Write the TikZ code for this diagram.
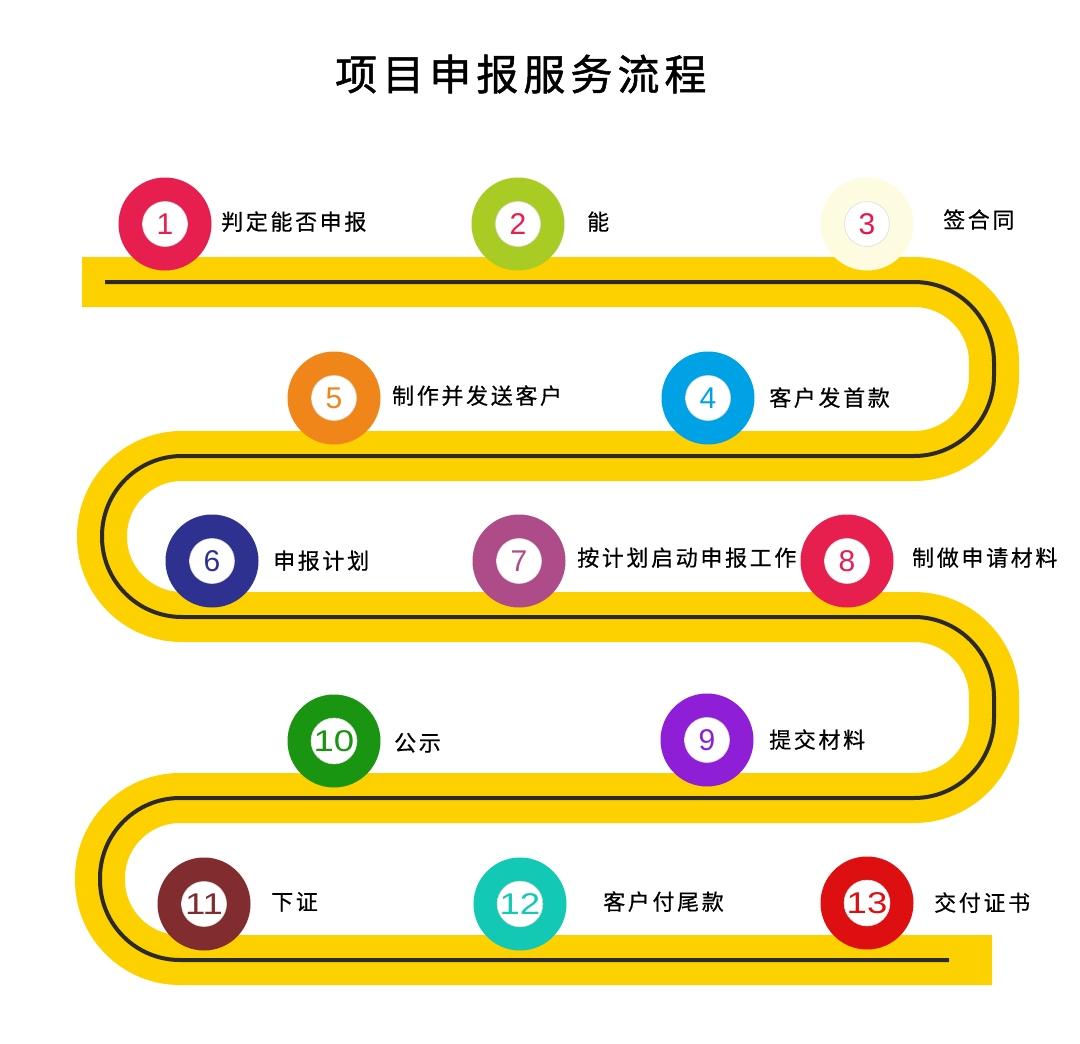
\documentclass[tikz,border=0pt]{standalone}
\usepackage{fontspec}
\newfontfamily\cjk[LetterSpace=12,FakeBold=0.5]{Noto Sans CJK SC}
\newfontfamily\cjktitle[LetterSpace=12,FakeBold=1.2]{Noto Sans CJK SC}
\newfontfamily\numf{Liberation Sans}
\definecolor{roadyellow}{RGB}{253,208,0}
\definecolor{roadline}{RGB}{43,42,41}
\definecolor{cA}{RGB}{230,31,79}
\definecolor{cB}{RGB}{169,204,37}
\definecolor{cC}{RGB}{254,252,224}
\definecolor{cCnum}{RGB}{232,23,74}
\definecolor{cD}{RGB}{0,162,230}
\definecolor{cE}{RGB}{240,134,26}
\definecolor{cF}{RGB}{46,49,144}
\definecolor{cG}{RGB}{174,75,137}
\definecolor{cH}{RGB}{230,31,79}
\definecolor{cI}{RGB}{142,31,214}
\definecolor{cJ}{RGB}{26,149,17}
\definecolor{cK}{RGB}{129,45,47}
\definecolor{cL}{RGB}{19,200,181}
\definecolor{cM}{RGB}{221,15,17}
\pgfdeclareradialshading{innerball}{\pgfpoint{0bp}{0bp}}{color(0bp)=(white); color(34bp)=(white); color(46bp)=(black!16); color(50bp)=(black!26)}
\begin{document}
\begin{tikzpicture}[x=1pt,y=-1pt,
  ring/.style={circle, minimum size=93pt, inner sep=0pt, draw=none},
  ball/.style={circle, minimum size=45pt, inner sep=0pt, shading=innerball, draw=black!14, line width=0.6pt, font=\numf\fontsize{30}{30}\selectfont},
  lab/.style={anchor=base west, inner sep=0pt, font=\cjk\fontsize{22}{24}\selectfont, text=black},
  road/.style={line width=50pt, draw=roadyellow, rounded corners=80pt},
  roadcentre/.style={line width=4pt, draw=roadline, rounded corners=80pt}]
\useasboundingbox (0,0) rectangle (1080,1044);
\fill[white] (0,0) rectangle (1080,1044);

% title
\node[anchor=base west, inner sep=0pt, font=\cjktitle\fontsize{42}{46}\selectfont] (title) at (335,90) {项目申报服务流程};

% road
\coordinate (rs) at (82,282);
\coordinate (re) at (992,960);
\coordinate (ls) at (105,282);
\coordinate (le) at (949,960);
\draw[road] (rs) -- (994,282) -- (994,456) -- (102,456) -- (102,617) -- (994,617) -- (994,798) -- (100,798) -- (100,960) -- (re);
\draw[roadcentre] (ls) -- (994,282) -- (994,456) -- (102,456) -- (102,617) -- (994,617) -- (994,798) -- (100,798) -- (100,960) -- (le);

% steps
\node[ring, fill=cA] (s1) at (165,224) {};
\node[ball, text=cA] (b1) at (s1) {1};
\node[ring, fill=cB] (s2) at (518,224) {};
\node[ball, text=cA] (b2) at (s2) {2};
\node[ring, fill=cC] (s3) at (867,224) {};
\node[ball, text=cCnum] (b3) at (s3) {3};
\node[ring, fill=cD] (s4) at (708,398) {};
\node[ball, text=cD] (b4) at (s4) {4};
\node[ring, fill=cE] (s5) at (334,398) {};
\node[ball, text=cE] (b5) at (s5) {5};
\node[ring, fill=cF] (s6) at (212,561) {};
\node[ball, text=cF] (b6) at (s6) {6};
\node[ring, fill=cG] (s7) at (519,561) {};
\node[ball, text=cG] (b7) at (s7) {7};
\node[ring, fill=cH] (s8) at (847,561) {};
\node[ball, text=cH] (b8) at (s8) {8};
\node[ring, fill=cI] (s9) at (707,740) {};
\node[ball, text=cI] (b9) at (s9) {9};
\node[ring, fill=cJ] (s10) at (334,741) {};
\node[ball, text=cJ] (b10) at (s10) {\scalebox{1.22}[1]{10}};
\node[ring, fill=cK] (s11) at (204,904) {};
\node[ball, text=cK] (b11) at (s11) {\scalebox{1.22}[1]{11}};
\node[ring, fill=cL] (s12) at (520,904) {};
\node[ball, text=cL] (b12) at (s12) {\scalebox{1.22}[1]{12}};
\node[ring, fill=cM] (s13) at (867,903) {};
\node[ball, text=cM] (b13) at (s13) {\scalebox{1.22}[1]{13}};

% labels
\node[lab] (l1) at (221,230) {判定能否申报};
\node[lab] (l2) at (587,230) {能};
\node[lab] (l3) at (943,228) {签合同};
\node[lab] (l4) at (769,406) {客户发首款};
\node[lab] (l5) at (392,404) {制作并发送客户};
\node[lab] (l6) at (273,569) {申报计划};
\node[lab] (l7) at (577,566) {按计划启动申报工作};
\node[lab] (l8) at (912,566) {制做申请材料};
\node[lab] (l9) at (769,748) {提交材料};
\node[lab] (l10) at (394,751) {公示};
\node[lab] (l11) at (271,910) {下证};
\node[lab] (l12) at (603,910) {客户付尾款};
\node[lab] (l13) at (934,911) {交付证书};
\end{tikzpicture}
\end{document}
